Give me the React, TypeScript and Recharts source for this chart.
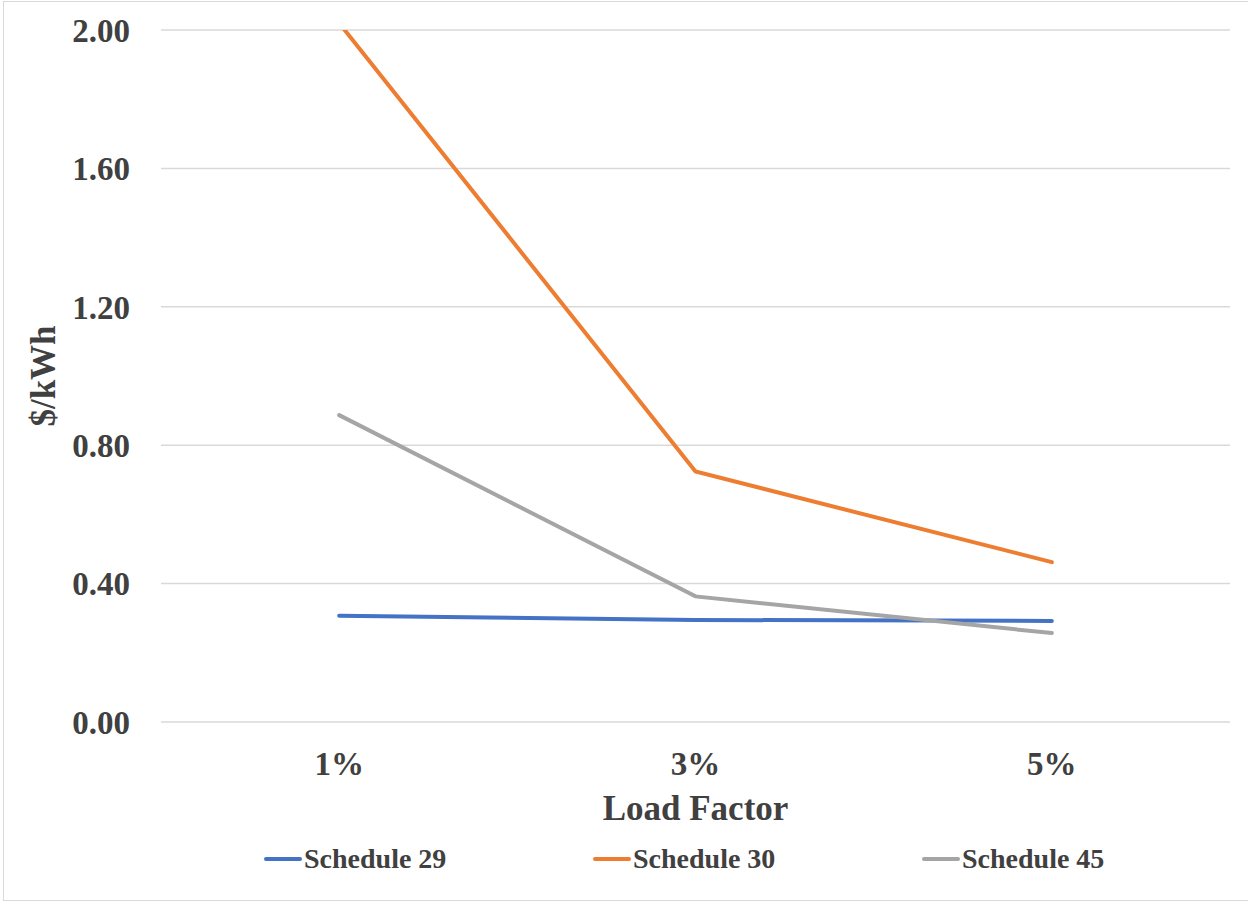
import React from 'react';
import { LineChart, Line, XAxis, YAxis, CartesianGrid, Legend } from 'recharts';

const categories = ['1%', '3%', '5%'];
const schedule29 = [0.307, 0.295, 0.292];
const schedule30 = [2.02, 0.724, 0.462];
const schedule45 = [0.887, 0.363, 0.257];
const yTicks = [0, 0.4, 0.8, 1.2, 1.6, 2.0];

const seriesNames = ['Schedule 29', 'Schedule 30', 'Schedule 45'];
const seriesColors = ['#4472C4', '#ED7D31', '#A5A5A5'];

const data = categories.map((c, i) => ({
  cat: c,
  s29: schedule29[i],
  s30: schedule30[i],
  s45: schedule45[i],
}));

const W = 1248;
const H = 901;
const FONT = '"Liberation Serif", "Times New Roman", serif';
const TEXT = '#404040';
const Y_AXIS_W = 161;
const RIGHT = 18;
const plotW = W - Y_AXIS_W - RIGHT;
const pad = plotW / 6;

const tickStyle = { fontSize: 33, fontWeight: 700, fill: TEXT, fontFamily: FONT };

const LegendContent = (props: any) => {
  const payload = props.payload || [];
  return (
    <div style={{ display: 'flex', alignItems: 'center', height: 60, paddingLeft: 264, fontFamily: FONT }}>
      {payload.map((p: any, i: number) => (
        <div key={i} style={{ display: 'flex', alignItems: 'center', width: i < payload.length - 1 ? 329 : 'auto', flexShrink: 0 }}>
          <svg width={38} height={8} style={{ display: 'block' }}>
            <line x1={2} y1={4} x2={36} y2={4} stroke={p.color} strokeWidth={4} strokeLinecap="round" />
          </svg>
          <span style={{ marginLeft: 2, fontSize: 28, fontWeight: 700, color: TEXT, whiteSpace: 'nowrap' }}>{p.value}</span>
        </div>
      ))}
    </div>
  );
};

export default function App() {
  return (
    <div style={{ position: 'absolute', left: 0, top: 0, width: W, height: H, background: '#fff' }}>
      <div style={{ position: 'absolute', left: 3, top: 1, width: 1250, height: 898, border: '1px solid #D9D9D9' }} />
      <div style={{ position: 'absolute', left: 0, top: 0 }}>
        <LineChart width={W} height={H} data={data} margin={{ top: 30, right: RIGHT, left: 0, bottom: 12 }}>
          <CartesianGrid vertical={false} stroke="#D9D9D9" strokeWidth={1.5} />
          <XAxis
            dataKey="cat"
            axisLine={false}
            tickLine={false}
            tickSize={0}
            tickMargin={30}
            height={107}
            padding={{ left: pad, right: pad }}
            tick={tickStyle}
            label={(p: any) => {
              const vb = p.viewBox || {};
              return (
                <text x={vb.x + vb.width / 2} y={vb.y + 86} textAnchor="middle" dominantBaseline="central"
                  style={{ fontSize: 35, fontWeight: 700, fill: TEXT, fontFamily: FONT }}>Load Factor</text>
              );
            }}
          />
          <YAxis
            width={Y_AXIS_W}
            domain={[0, 2]}
            ticks={yTicks}
            allowDataOverflow
            axisLine={false}
            tickLine={false}
            tickSize={0}
            tickMargin={31}
            tick={tickStyle}
            tickFormatter={(v: number) => v.toFixed(2)}
            label={(p: any) => {
              const vb = p.viewBox || {};
              const cx = vb.x + 43;
              const cy = vb.y + vb.height / 2;
              return (
                <text x={cx} y={cy} textAnchor="middle" dominantBaseline="central" transform={`rotate(-90, ${cx}, ${cy})`}
                  style={{ fontSize: 35, fontWeight: 700, fill: TEXT, fontFamily: FONT }}>$/kWh</text>
              );
            }}
          />
          <Legend verticalAlign="bottom" align="left" height={60} content={LegendContent} />
          <Line type="linear" dataKey="s29" name={seriesNames[0]} stroke={seriesColors[0]} strokeWidth={4} dot={false} strokeLinecap="round" isAnimationActive={false} />
          <Line type="linear" dataKey="s30" name={seriesNames[1]} stroke={seriesColors[1]} strokeWidth={4} dot={false} strokeLinecap="round" isAnimationActive={false} />
          <Line type="linear" dataKey="s45" name={seriesNames[2]} stroke={seriesColors[2]} strokeWidth={4} dot={false} strokeLinecap="round" isAnimationActive={false} />
        </LineChart>
      </div>
    </div>
  );
}
